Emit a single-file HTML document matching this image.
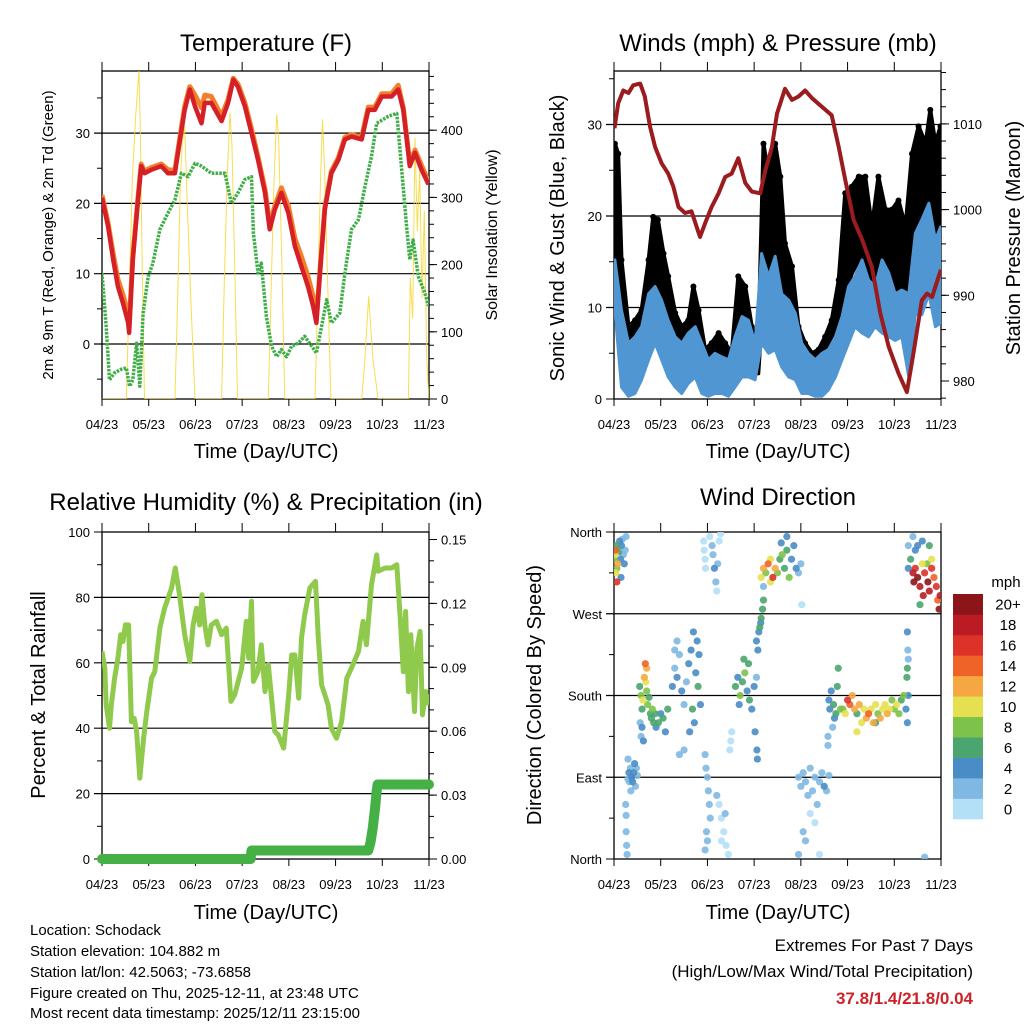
<!DOCTYPE html>
<html><head><meta charset="utf-8"><style>
html,body{margin:0;padding:0;background:#fff;}
svg{display:block;font-family:"Liberation Sans",sans-serif;}
</style></head><body>
<svg id="fig" xmlns="http://www.w3.org/2000/svg" width="1024" height="1024" viewBox="0 0 1024 1024">
<defs>
<clipPath id="c1"><rect x="102" y="71" width="327" height="328"/></clipPath>
<clipPath id="c2"><rect x="614" y="71" width="327" height="328"/></clipPath>
<clipPath id="c3"><rect x="102" y="532" width="327" height="327"/></clipPath>
<clipPath id="c4"><rect x="614" y="532" width="327" height="327"/></clipPath>
</defs>
<text x="266" y="51" font-size="24" text-anchor="middle">Temperature (F)</text>
<text x="778" y="51" font-size="24" text-anchor="middle">Winds (mph) &amp; Pressure (mb)</text>
<text x="266" y="510" font-size="24" text-anchor="middle">Relative Humidity (%) &amp; Precipitation (in)</text>
<text x="778" y="505" font-size="24" text-anchor="middle">Wind Direction</text>
<text x="266" y="458" font-size="20" text-anchor="middle">Time (Day/UTC)</text>
<text x="778" y="458" font-size="20" text-anchor="middle">Time (Day/UTC)</text>
<text x="266" y="919" font-size="20" text-anchor="middle">Time (Day/UTC)</text>
<text x="778" y="919" font-size="20" text-anchor="middle">Time (Day/UTC)</text>
<text transform="translate(53,235) rotate(-90)" font-size="15" text-anchor="middle">2m &amp; 9m T (Red, Orange) &amp; 2m Td (Green)</text>
<text transform="translate(497,235) rotate(-90)" font-size="16" text-anchor="middle">Solar Insolation (Yellow)</text>
<text transform="translate(564,238) rotate(-90)" font-size="20" text-anchor="middle">Sonic Wind &amp; Gust (Blue, Black)</text>
<text transform="translate(1020,238) rotate(-90)" font-size="20" text-anchor="middle">Station Pressure (Maroon)</text>
<text transform="translate(45,695) rotate(-90)" font-size="20" text-anchor="middle">Percent &amp; Total Rainfall</text>
<text transform="translate(541,695) rotate(-90)" font-size="20" text-anchor="middle">Direction (Colored By Speed)</text>
<g font-size="15">
<text x="30" y="935">Location: Schodack</text>
<text x="30" y="956">Station elevation: 104.882 m</text>
<text x="30" y="977">Station lat/lon: 42.5063; -73.6858</text>
<text x="30" y="998">Figure created on Thu, 2025-12-11, at 23:48 UTC</text>
<text x="30" y="1018">Most recent data timestamp: 2025/12/11 23:15:00</text>
</g>
<text x="973" y="951" font-size="17" text-anchor="end">Extremes For Past 7 Days</text>
<text x="973" y="977" font-size="17" text-anchor="end">(High/Low/Max Wind/Total Precipitation)</text>
<text x="973" y="1004" font-size="17" font-weight="bold" fill="#cc2229" text-anchor="end">37.8/1.4/21.8/0.04</text>
<text x="1006" y="587" font-size="15" text-anchor="middle">mph</text>
</svg>
<script>
// ---------- data ----------
const dayLabels = ["04/23","05/23","06/23","07/23","08/23","09/23","10/23","11/23"];
const tempT = [0,.13,.24,.34,.45,.56,.58,.66,.77,.84,.91,1.06,1.27,1.41,1.56,1.66,1.77,1.88,1.99,2.13,2.2,2.34,2.56,2.7,2.81,2.91,3.06,3.2,3.34,3.49,3.59,3.7,3.84,3.99,4.13,4.27,4.41,4.52,4.59,4.66,4.77,4.91,5.06,5.2,5.34,5.56,5.7,5.84,5.99,6.2,6.34,6.45,6.59,6.7,6.84,6.99];
const temp2m = [20.8,16.7,12,8.2,5.8,3.0,1.6,12,20.5,25.3,24.3,24.8,25.3,24.3,24.3,28.6,33.3,36.2,33.8,31.4,34.3,34.3,31.7,34.3,37.6,36.6,33.8,30,26.2,21.5,16.3,19.1,21.5,18.6,13.9,11,8.2,5.4,3.0,9.6,19.1,24.3,26.2,29.1,29.5,29.1,33.3,33.3,35.2,35.2,36.2,33.3,25.3,27.2,24.8,22.7];
const temp9m = [21.2,17.2,12.8,9.2,7.0,4.2,2.4,12.4,20.8,25.6,24.6,25.1,25.6,24.8,24.7,29,33.8,36.6,35.4,33.6,35.4,35.2,32.4,34.8,37.8,37,34.3,30.6,26.6,22,17,19.6,22.2,19.6,15,12.4,9.6,6.8,3.6,9.9,19.4,24.6,26.5,29.4,29.8,29.4,33.7,33.7,35.6,35.6,36.8,33.6,25.7,27.6,25.4,23.1];
const tdT = [0,.09,.16,.27,.41,.52,.59,.66,.74,.81,.88,.99,1.09,1.24,1.41,1.56,1.7,1.84,1.99,2.13,2.34,2.63,2.77,2.91,3.06,3.2,3.24,3.34,3.41,3.52,3.63,3.74,3.84,3.95,4.06,4.2,4.34,4.49,4.59,4.7,4.81,4.91,5.09,5.2,5.34,5.49,5.63,5.77,5.88,6.13,6.31,6.41,6.52,6.59,6.66,6.77,6.91,6.99];
const tdVals = [10.1,2.5,-5.1,-4.1,-3.6,-3.4,-6,-5.1,0.1,-6,4.4,9.6,11.5,16.3,18.6,20.5,24.3,23.8,25.7,25.3,24.3,24.3,20,21.5,23.4,23.8,15.8,10.1,11.5,3.9,-0.3,-1.8,-0.8,-1.8,-0.3,0.1,1.1,-0.3,-1.3,2.5,6.3,3.0,4.4,10.1,16.3,17.7,22.4,26.7,31.4,32.4,32.8,25.3,16.7,12,14.8,9.6,7.3,5.4];
const insT = [0,.52,.58,.65,.72,.77,.79,.82,.86,.91,1.56,1.62,1.68,1.72,1.77,1.82,1.9,1.99,2.56,2.62,2.68,2.74,2.78,2.84,2.9,3.56,3.62,3.68,3.74,3.78,3.85,3.91,4.56,4.62,4.68,4.72,4.76,4.84,4.9,5.56,5.62,5.68,5.71,5.75,5.8,5.91,6.56,6.6,6.65,6.7,6.75,6.8,6.85,6.9,6.95,7.0];
const insVals = [0,0,150,330,420,470,489,400,200,0,0,150,330,380,406,300,150,0,0,180,330,426,380,200,0,0,160,320,424,390,200,0,0,160,330,416,350,150,0,0,50,120,153,110,60,0,0,180,120,389,250,340,150,280,60,0];
const presT = [.01,.09,.2,.31,.41,.56,.66,.77,.88,1.02,1.16,1.27,1.38,1.52,1.66,1.84,1.95,2.09,2.24,2.38,2.52,2.66,2.81,2.95,3.13,3.24,3.38,3.49,3.66,3.81,3.95,4.09,4.24,4.45,4.66,4.81,4.95,5.13,5.31,5.52,5.7,5.88,6.09,6.27,6.41,6.59,6.7,6.81,6.95,7.0];
const presVals = [1009.5,1012.4,1013.9,1013.6,1014.5,1014.7,1013.2,1009.7,1007.3,1005.4,1004.2,1002.7,1000.3,999.6,999.8,996.8,998.4,1000.3,1001.9,1003.8,1004.2,1006,1003.1,1002.1,1001.9,1004.6,1007.3,1011.2,1014.1,1012.8,1013.2,1013.9,1013,1012,1011,1007.3,1003.5,998.8,996.5,993.3,987.9,984,980.9,978.7,983.2,989.4,990.2,989.8,992.2,993];
const windT = [.02,.16,.31,.45,.59,.74,.88,1.02,1.16,1.31,1.45,1.59,1.74,1.88,2.02,2.16,2.31,2.45,2.59,2.74,2.88,3.02,3.16,3.31,3.45,3.59,3.74,3.88,4.02,4.16,4.31,4.45,4.59,4.74,4.88,5.02,5.16,5.31,5.45,5.59,5.74,5.88,6.02,6.16,6.31,6.45,6.59,6.74,6.88,6.99];
const windHi = [15.2,9.7,6.1,6.8,7.9,11.5,12.3,10.8,8.6,6.8,6.1,7.2,7.9,6.1,4.3,5.0,4.6,4.3,6.8,9.0,8.6,6.1,15.9,13.4,15.6,11.5,10.8,9.4,6.1,5.0,4.3,5.0,5.4,6.8,9.0,12.3,13.4,15.2,13.0,12.3,15.2,13.8,11.5,11.9,11.5,18.1,19.6,21.4,17.4,18.8];
const windLo = [9.7,1.3,0.3,0.6,2.1,4.3,6.1,4.3,2.4,1.3,0.6,1.7,2.4,0.6,0.3,0.6,0.6,0.3,1.3,2.4,2.4,2.1,6.1,5.0,5.4,3.5,2.4,2.1,0.6,0.6,0.3,0.3,1.0,2.4,4.3,6.1,7.9,7.2,6.8,7.9,7.2,6.8,6.4,6.8,2.4,9.2,9.2,11.5,7.9,8.3];
const gustT = [.02,.09,.16,.31,.45,.59,.74,.84,.94,1.06,1.16,1.31,1.45,1.59,1.7,1.81,1.95,2.09,2.24,2.38,2.52,2.66,2.81,2.95,3.09,3.2,3.31,3.45,3.56,3.66,3.81,3.95,4.09,4.24,4.38,4.52,4.66,4.81,4.95,5.09,5.24,5.38,5.52,5.66,5.81,5.95,6.09,6.24,6.38,6.52,6.67,6.77,6.88,6.99];
const gustHi = [27.9,26.8,15.2,7.9,8.6,9.7,15.2,19.9,19.6,15.9,13.4,9.4,7.9,8.6,12.3,9.7,5.4,6.1,7.2,6.1,5.0,13.4,12.3,7.9,6.1,27.9,24.3,27.9,24.3,17.0,14.5,7.9,6.1,5.0,5.4,6.8,8.6,13.0,22.5,23.2,24.3,24.3,18.8,24.3,20.7,20.7,21.7,18.8,26.8,29.8,27.9,31.6,27.9,29.8];
const gustLo = [11.5,8.6,4.3,2.1,2.4,4.3,6.1,9.4,8.6,6.8,5.0,3.5,2.4,3.2,4.3,2.8,1.3,1.7,1.7,1.7,1.3,5.4,5.0,3.5,2.8,11.5,9.7,11.5,11.5,7.9,6.1,2.8,2.1,2.1,2.1,3.2,4.3,7.2,11.5,13.7,15.2,13.4,11.5,12.3,11.5,12.3,10.8,11.5,13.4,14.5,15.2,17.0,16.6,18.8];
const rhT = [0,.06,.09,.16,.2,.27,.34,.4,.45,.5,.57,.63,.69,.74,.81,.89,.96,1.06,1.13,1.24,1.34,1.49,1.57,1.66,1.77,1.88,1.95,2.02,2.09,2.14,2.2,2.27,2.34,2.45,2.56,2.66,2.76,2.84,2.99,3.09,3.14,3.2,3.24,3.34,3.41,3.49,3.56,3.7,3.77,3.89,3.99,4.06,4.13,4.21,4.27,4.34,4.45,4.57,4.63,4.7,4.84,4.91,5.02,5.13,5.24,5.34,5.49,5.59,5.66,5.77,5.88,5.91,6.06,6.2,6.31,6.38,6.45,6.5,6.56,6.61,6.69,6.74,6.81,6.86,6.93,6.99];
const rhVals = [63.5,58.4,47.1,40,47.1,55.3,61.4,68.6,66.5,71.6,71.6,42,43,39,24.7,36.9,45.1,55.3,57.3,70.6,76.7,82.9,89,80.8,68.6,60.4,71.6,76.7,71.6,80.8,71.6,65.5,71.6,72.7,68.6,70.6,48.2,50.2,58.4,72.7,61.4,78.8,54.3,57.3,65.5,51.2,59.4,39,38,33.9,49.2,62.4,62.4,49.2,67.6,74.7,82.9,84.9,67.6,53.3,47.1,40,36.9,42,55.3,58.4,63.5,72.7,65.5,83.9,93,88,89,89,90,74.7,57.3,75.7,51.2,68.6,45.1,64.5,69.6,44.1,51.2,47.1];
const precT = [0,3.18,3.2,5.7,5.75,5.8,5.85,5.88,5.9,7.0];
const precVals = [0,0,0.004,0.004,0.008,0.015,0.025,0.032,0.035,0.035];
const dirT = [0,.02,.03,.05,.06,.08,.1,.12,.14,.16,.18,.2,.22,.24,.26,.04,.15,.06,
.3,.32,.35,.38,.4,.42,.44,.46,.48,.36,.33,.5,.26,.26,.27,.28,.25,.3,
.55,.58,.6,.62,.65,.68,.7,.72,.75,.78,.8,.82,.85,.88,.9,.95,1.0,1.05,1.1,1.15,.6,.63,.7,.67,.56,.58,
1.25,1.3,1.35,1.4,1.45,1.5,1.55,1.6,1.65,1.7,1.75,1.8,1.85,1.72,1.62,1.5,1.4,1.3,1.35,1.78,1.82,1.68,
1.92,1.93,1.95,1.96,2.05,2.1,2.12,2.15,2.18,2.2,2.25,2.28,2.22,1.95,1.97,2.0,2.02,2.04,2.06,1.98,2.0,1.95,2.25,2.3,2.35,2.4,2.45,2.3,2.2,2.38,2.5,2.52,2.48,
2.6,2.65,2.7,2.75,2.8,2.85,2.9,2.95,3.0,3.05,2.88,2.78,3.02,3.06,3.07,2.68,
3.05,3.1,3.12,3.15,3.18,3.2,3.08,3.14,
3.15,3.2,3.25,3.3,3.35,3.4,3.45,3.5,3.55,3.6,3.65,3.7,3.75,3.8,3.85,3.9,3.95,4.0,3.7,3.58,3.2,4.02,3.35,
3.95,4.0,4.05,4.1,4.15,4.2,4.25,4.3,4.35,4.4,4.45,4.5,4.55,4.6,4.2,4.3,4.1,4.05,3.95,4.4,
4.6,4.62,4.65,4.7,4.72,4.75,4.78,4.8,4.85,4.68,4.58,4.58,
4.9,4.95,5.0,5.05,5.1,5.15,5.2,5.25,5.3,5.35,5.4,5.45,5.5,5.55,5.6,5.65,5.7,5.75,5.8,5.85,5.9,5.95,6.0,6.05,6.1,6.15,6.2,6.25,6.28,5.2,5.6,
6.3,6.35,6.4,6.42,6.45,6.5,6.55,6.6,6.62,6.65,6.7,6.72,6.75,6.8,6.85,6.9,6.93,6.96,6.98,6.5,6.6,6.75,6.8,6.3,6.55,6.4,6.45,
6.28,6.29,6.3,6.27,6.28,6.3,6.65];
const dirDeg = [330,335,340,345,320,325,338,350,330,345,352,335,325,340,355,315,310,305,
110,95,100,90,85,95,105,80,100,75,85,92,48,30,15,5,60,88,
190,180,165,175,200,195,185,170,178,160,155,165,150,160,145,150,160,155,140,165,145,130,210,215,150,135,
190,210,200,225,185,170,195,215,230,250,205,190,170,150,140,120,115,230,240,240,225,165,
350,340,330,320,355,345,335,320,305,295,350,358,325,115,100,90,75,60,45,30,20,10,60,45,30,15,5,20,70,50,130,140,120,
190,200,180,195,205,185,175,165,190,200,215,220,140,120,110,170,
240,250,255,265,275,285,230,260,
310,320,315,325,330,310,320,315,330,335,320,340,310,330,345,320,315,325,355,348,300,280,305,
90,80,95,85,70,100,75,90,60,85,95,80,75,92,50,40,20,30,5,5,
175,165,185,170,155,160,190,210,165,145,135,125,
165,160,175,170,180,165,160,170,150,165,155,160,165,150,170,160,155,165,170,160,165,175,165,170,160,175,180,165,150,140,150,
320,330,315,305,320,310,300,325,290,315,325,305,295,320,310,300,285,275,290,345,350,345,330,345,280,355,340,
250,230,220,200,210,180,2];
const dirSpd = [8,10,14,6,8,12,6,4,4,4,3,3,4,2,2,10,5,16,
3,4,3,4,4,4,4,3,2,2,2,3,2,3,3,2,2,2,
6,8,6,10,12,10,8,8,6,6,6,8,6,6,4,6,4,6,4,6,4,4,12,14,2,2,
4,2,4,2,4,2,2,4,4,4,4,6,4,4,4,2,2,2,2,4,4,6,
0,0,1,0,1,2,2,4,2,1,1,1,2,2,2,2,2,2,2,2,2,2,0,0,1,1,0,0,2,2,0,0,0,
6,4,8,6,8,4,6,4,4,2,6,6,4,4,4,4,
4,4,6,6,6,6,4,4,
10,12,8,14,10,16,12,8,6,8,6,6,8,4,4,4,2,2,4,4,2,0,10,
2,2,2,2,2,2,2,2,2,2,2,4,2,2,1,1,2,2,2,1,
4,4,4,6,4,6,6,6,8,2,2,2,
8,10,16,14,12,12,6,12,10,10,12,14,10,12,10,8,12,10,10,12,10,8,8,10,8,6,8,4,4,10,6,
4,6,18,20,16,20,18,10,18,16,8,20,18,16,14,16,14,20,18,4,4,6,10,2,6,2,4,
4,2,2,6,6,4,2];
const speedColors = ["#b3e0f7","#7fb8e2","#4a8cc5","#4aa56e","#7dc24a","#e5e050","#f5a842","#ef6228","#dc3227","#bb1c24","#8b1518"];
const speedLabels = ["0","2","4","6","8","10","12","14","16","18","20+"];

// ---------- helpers ----------
const NS = "http://www.w3.org/2000/svg";
const svg = document.getElementById("fig");
function mk(tag, attrs, parent) {
  const e = document.createElementNS(NS, tag);
  for (const k in attrs) e.setAttribute(k, attrs[k]);
  (parent || svg).appendChild(e);
  return e;
}
function linScale(d0, d1, r0, r1) { return v => r0 + (v - d0) * (r1 - r0) / (d1 - d0); }
function pts(ts, vs, xs, ys) { return ts.map((t, i) => xs(t).toFixed(1) + "," + ys(vs[i]).toFixed(1)).join(" "); }

const P = [
  {x0:102,x1:429,y0:71,y1:399,clip:"c1"},
  {x0:614,x1:941,y0:71,y1:399,clip:"c2"},
  {x0:102,x1:429,y0:532,y1:859,clip:"c3"},
  {x0:614,x1:941,y0:532,y1:859,clip:"c4"}];
P.forEach(p => { p.xs = linScale(0, 7, p.x0, p.x1); });

const y1L = linScale(0, 10, 344, 273.7);
const y1R = linScale(0, 100, 399, 331.8);
const y2L = linScale(0, 10, 399, 307.5);
const y2R = linScale(980, 990, 381, 295.3);
const y3L = linScale(0, 100, 859, 532);
const y3R = linScale(0, 0.01, 859, 837.7);
const y4 = linScale(0, 360, 859, 532);

// axes frames, x ticks, grids
function frame(p, idx) {
  const g = mk("g", {});
  
  
  const r = mk("rect", {x:p.x0, y:p.y0, width:p.x1 - p.x0, height:p.y1 - p.y0, fill:"none", stroke:"#000", "stroke-width":1.3}, g);
  
  
  const ly = p.y1 + 30;
  dayLabels.forEach((lab, i) => {
    const x = p.xs(i);
    mk("line", {x1:x, x2:x, y1:p.y1, y2:p.y1 + 7, stroke:"#000", "stroke-width":1}, g);
    mk("line", {x1:x, x2:x, y1:p.y0, y2:p.y0 - 9, stroke:"#000", "stroke-width":1}, g);
    const t = mk("text", {x:x, y:ly, "font-size":13, "text-anchor":"middle"}, g);
    
    
    t.textContent = lab;
  });
  return g;
}
function yAxis(p, g, scale, vals, labels, side, minors, grid) {
  vals.forEach((v, i) => {
    const y = scale(v);
    if (side === "left") {
      if (grid && y > p.y0 + 1 && y < p.y1 - 1) mk("line", {x1:p.x0 - 8, x2:p.x1, y1:y, y2:y, stroke:"#000", "stroke-width":1.2}, g);
      else mk("line", {x1:p.x0 - 8, x2:p.x0, y1:y, y2:y, stroke:"#000"}, g);
      const t = mk("text", {x:p.x0 - 12, y:y + 5, "font-size":13, "text-anchor":"end"}, g);
      
      
      t.textContent = labels[i];
    } else {
      mk("line", {x1:p.x1, x2:p.x1 + 8, y1:y, y2:y, stroke:"#000"}, g);
      const t = mk("text", {x:p.x1 + 12, y:y + 5, "font-size":13, "text-anchor":"start"}, g);
      
      
      t.textContent = labels[i];
    }
  });
  minors.forEach(v => {
    const y = scale(v);
    if (y < p.y0 - 0.5 || y > p.y1 + 0.5) return;
    if (side === "left") mk("line", {x1:p.x0 - 5, x2:p.x0, y1:y, y2:y, stroke:"#000"}, g);
    else mk("line", {x1:p.x1, x2:p.x1 + 5, y1:y, y2:y, stroke:"#000"}, g);
  });
}
function range(a, b, s) { const r = []; for (let v = a; v <= b + 1e-9; v += s) r.push(+v.toFixed(4)); return r; }

// ---------- panel 1: temperature ----------
{
  const p = P[0];
  const g = frame(p, 0);
  yAxis(p, g, y1L, [0,10,20,30], ["0","10","20","30"], "left", [-5,5,15,25,35], true);
  yAxis(p, g, y1R, [0,100,200,300,400], ["0","100","200","300","400"], "right", range(0,480,20), false);
  const d = mk("g", {"clip-path":"url(#c1)"});
  
  
  const ins = mk("polyline", {points:pts(insT, insVals, p.xs, y1R), fill:"none", stroke:"#f7d730", "stroke-width":1, "stroke-opacity":0.85}, d);
  
  
  const td = mk("polyline", {points:pts(tdT, tdVals, p.xs, y1L), fill:"none", stroke:"#3fae49", "stroke-width":3.5, "stroke-dasharray":"2.5 1.2", "stroke-linejoin":"round"}, d);
  
  
  const t9 = mk("polyline", {points:pts(tempT, temp9m, p.xs, y1L), fill:"none", stroke:"#f47f2a", "stroke-width":5, "stroke-linejoin":"round"}, d);
  
  
  const t2 = mk("polyline", {points:pts(tempT, temp2m, p.xs, y1L), fill:"none", stroke:"#d42026", "stroke-width":4.5, "stroke-linejoin":"round"}, d);
  
  
}
// ---------- panel 2: winds & pressure ----------
{
  const p = P[1];
  const g = frame(p, 1);
  yAxis(p, g, y2L, [0,10,20,30], ["0","10","20","30"], "left", [5,15,25,35], true);
  yAxis(p, g, y2R, [980,990,1000,1010], ["980","990","1000","1010"], "right", range(978,1016,2), false);
  const d = mk("g", {"clip-path":"url(#c2)"});
  
  
  const gp = gustT.map((t, i) => p.xs(t).toFixed(1) + "," + y2L(gustHi[i]).toFixed(1))
    .concat(gustT.map((t, i) => p.xs(t).toFixed(1) + "," + y2L(gustLo[i]).toFixed(1)).reverse()).join(" ");
  const gb = mk("polygon", {points:gp, fill:"#000", stroke:"#000", "stroke-width":4, "stroke-linejoin":"round"}, d);
  
  
  gustT.forEach((t, i) => {
    const c = mk("circle", {cx:p.xs(t), cy:y2L(gustHi[i]), r:3, fill:"#000"}, d);
    
    
  });
  const wp = windT.map((t, i) => p.xs(t).toFixed(1) + "," + y2L(windHi[i]).toFixed(1))
    .concat(windT.map((t, i) => p.xs(t).toFixed(1) + "," + y2L(windLo[i]).toFixed(1)).reverse()).join(" ");
  const wb = mk("polygon", {points:wp, fill:"#4f96d2", stroke:"#4f96d2", "stroke-width":3, "stroke-linejoin":"round"}, d);
  
  
  const pr = mk("polyline", {points:pts(presT, presVals, p.xs, y2R), fill:"none", stroke:"#9b1b1e", "stroke-width":4, "stroke-linejoin":"round"}, d);
  
  
}
// ---------- panel 3: RH & precip ----------
{
  const p = P[2];
  const g = frame(p, 2);
  yAxis(p, g, y3L, [0,20,40,60,80,100], ["0","20","40","60","80","100"], "left", [10,30,50,70,90], true);
  yAxis(p, g, y3R, [0,0.03,0.06,0.09,0.12,0.15], ["0.00","0.03","0.06","0.09","0.12","0.15"], "right", range(0,0.15,0.01), false);
  const d = mk("g", {});
  
  
  const rh = mk("polyline", {points:pts(rhT, rhVals, p.xs, y3L), fill:"none", stroke:"#8fca4d", "stroke-width":5, "stroke-linejoin":"round", "clip-path":"url(#c3)"}, d);
  
  
  const pc = mk("polyline", {points:pts(precT, precVals, p.xs, y3R), fill:"none", stroke:"#45b045", "stroke-width":10, "stroke-linejoin":"round", "stroke-linecap":"round"}, d);
  
  
}
// ---------- panel 4: wind direction ----------
{
  const p = P[3];
  const g = frame(p, 3);
  yAxis(p, g, y4, [0,90,180,270,360], ["North","East","South","West","North"], "left", [45,135,225,315], true);
  const d = mk("g", {"clip-path":"url(#c4)"});
  
  
  const order = dirT.map((t, i) => i).sort((a, b) => dirSpd[a] - dirSpd[b]);
  order.forEach(i => {
    const k = Math.min(10, Math.floor(dirSpd[i] / 2));
    const c = mk("circle", {cx:p.xs(dirT[i]), cy:y4(dirDeg[i]), r:3.6, fill:speedColors[k], "fill-opacity":0.9}, d);
    
    
  });
  const cb = mk("g", {});
  
  
  const h = 225 / 11;
  speedColors.forEach((col, i) => {
    const y = 819 - (i + 1) * h;
    const r = mk("rect", {x:953, y:y, width:30, height:h + 0.3, fill:col}, cb);
    
    
    const t = mk("text", {x:1008, y:y + h / 2 + 5.5, "font-size":15, "text-anchor":"middle"}, cb);
    
    
    t.textContent = speedLabels[i];
  });
}
</script>
</body></html>
